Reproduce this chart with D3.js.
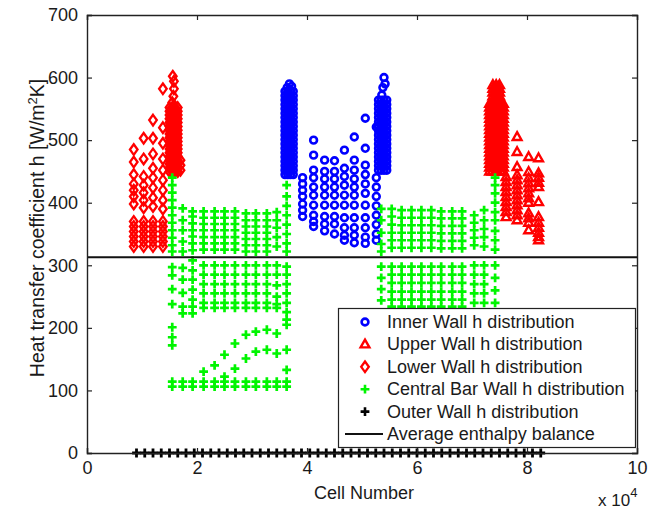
<html>
<head>
<meta charset="utf-8">
<title>Heat transfer coefficient distribution</title>
<script src="https://cdn.jsdelivr.net/npm/d3@7"></script>
<style>
  body { margin: 0; background: #fff; }
  text { font-family: "Liberation Sans", Arial, Helvetica, sans-serif; fill: #1a1a1a; }
</style>
</head>
<body>
<svg></svg>
<script>
'use strict';

// axes
let xTicks = [0, 2, 4, 6, 8, 10];
let yTicks = [0, 100, 200, 300, 400, 500, 600, 700];
let averageH = 313;

// inner wall (blue circles): two dense blocks plus the bowl between them
let innerBlockLeftX = [3.6, 3.65, 3.7, 3.75];
let innerBlockLeftY = [445, 452, 459, 466, 473, 480, 487, 494, 501, 508, 515, 522, 529, 536, 543, 550, 557, 564, 571, 578];
let innerTopLeft = [[3.64, 584], [3.68, 590], [3.72, 586]];
let innerBlockRightX = [5.3, 5.35, 5.4, 5.45];
let innerBlockRightY = [452, 459, 466, 473, 480, 487, 494, 501, 508, 515, 522, 529, 536, 543, 550, 557, 564];
let innerTopRight = [[5.36, 572], [5.38, 584], [5.4, 600], [5.42, 590]];
let innerColX = [3.92, 4.12, 4.32, 4.5, 4.68, 4.86, 5.06, 5.26];
let innerColY = [
  [440, 430, 420, 410, 398, 388, 378],
  [500, 476, 452, 440, 425, 412, 396, 380, 370, 362],
  [468, 450, 438, 425, 412, 396, 378, 366, 355],
  [467, 450, 438, 425, 412, 396, 378, 366, 350],
  [484, 455, 442, 428, 412, 396, 376, 360, 348, 340],
  [505, 468, 452, 438, 425, 412, 396, 376, 360, 348, 336],
  [535, 487, 460, 445, 430, 415, 396, 376, 360, 345, 335],
  [521, 440, 425, 410, 395, 380, 365, 350, 340]
];

// upper wall (red triangles)
let upperBlockX = [7.32, 7.37, 7.42, 7.47, 7.52, 7.57];
let upperBlockY = [450, 456, 462, 468, 474, 480, 486, 492, 498, 504, 510, 516, 522, 528, 534, 540, 546, 552, 558];
let upperTopX = [7.38, 7.44, 7.5];
let upperTopY = [564, 570, 576, 582, 588];
let upperColX = [7.62, 7.82, 8.03, 8.21];
let upperColY = [
  [441, 433, 425, 417, 409, 401, 393, 385, 377],
  [505, 481, 457, 444, 436, 428, 420, 412, 404, 396, 388, 380, 372],
  [473, 449, 439, 431, 423, 415, 407, 400, 383, 375, 368, 356],
  [471, 447, 440, 432, 425, 401, 377, 368, 360, 352, 345, 340]
];

// lower wall (red diamonds)
let lowerColX = [0.85, 1.03, 1.2, 1.38];
let lowerColY = [
  [485, 465, 445, 430, 420, 410, 398, 370, 362, 354, 346, 338, 330],
  [503, 470, 442, 428, 416, 404, 392, 370, 362, 354, 346, 338, 330],
  [532, 503, 478, 455, 440, 424, 408, 394, 370, 362, 354, 346, 338, 330],
  [582, 520, 495, 470, 452, 436, 420, 404, 390, 370, 362, 354, 346, 338, 330]
];
let lowerBlockX = [1.5, 1.55, 1.6, 1.65];
let lowerBlockY = [450, 456, 462, 468, 474, 480, 486, 492, 498, 504, 510, 516, 522, 528, 534, 540, 546, 552];
let lowerTop = [[1.55, 560], [1.57, 570], [1.58, 582], [1.58, 594], [1.56, 602], [1.7, 452], [1.7, 460], [1.7, 468]];

// central bar wall (green plus)
let centralColX = [1.55, 1.74, 1.92, 2.12, 2.32, 2.5, 2.69, 2.89, 3.07, 3.27, 3.45, 3.63,
  5.35, 5.54, 5.72, 5.9, 6.08, 6.26, 6.44, 6.64, 6.82, 7.04, 7.22, 7.42];
let centralColY = [
  [440, 428, 416, 404, 392, 380, 368, 356, 344, 332, 322, 297, 284, 262, 238, 201, 185, 172, 114, 106],
  [391, 372, 356, 338, 322, 296, 277, 256, 234, 223, 114, 106],
  [386, 378, 367, 356, 346, 335, 324, 308, 292, 277, 261, 245, 234, 223, 114, 106],
  [386, 376, 366, 356, 345, 335, 325, 300, 285, 270, 255, 240, 232, 130, 114, 106],
  [386, 376, 366, 356, 345, 335, 325, 300, 285, 270, 255, 240, 232, 140, 114, 106],
  [386, 376, 366, 356, 345, 335, 325, 300, 285, 270, 255, 240, 232, 157, 122, 114, 106],
  [386, 376, 366, 356, 345, 335, 325, 300, 285, 270, 255, 240, 232, 175, 135, 114, 106],
  [383, 372, 362, 352, 342, 332, 322, 300, 285, 270, 255, 240, 232, 189, 151, 114, 106],
  [383, 372, 362, 352, 342, 332, 322, 300, 285, 270, 255, 240, 232, 194, 162, 114, 106],
  [383, 372, 362, 352, 342, 332, 322, 300, 285, 270, 255, 240, 232, 197, 165, 114, 106],
  [385, 372, 360, 345, 330, 300, 285, 268, 250, 238, 232, 191, 159, 114, 106],
  [428, 410, 395, 380, 365, 350, 335, 322, 298, 285, 270, 255, 240, 225, 213, 205, 165, 133, 114, 106],
  [390, 372, 352, 334, 322, 298, 280, 262, 244],
  [390, 378, 365, 352, 340, 328, 298, 285, 272, 258, 245, 234],
  [388, 376, 364, 352, 340, 328, 298, 285, 272, 258, 245, 234],
  [388, 376, 364, 352, 340, 328, 298, 285, 272, 258, 245, 234],
  [388, 376, 364, 352, 340, 328, 298, 285, 272, 258, 245, 234],
  [388, 376, 364, 352, 340, 328, 298, 285, 272, 258, 245, 234],
  [386, 375, 363, 351, 339, 327, 298, 285, 272, 258, 245, 234],
  [386, 375, 363, 351, 339, 327, 298, 285, 272, 258, 245, 234],
  [386, 375, 363, 351, 339, 327, 298, 285, 272, 258, 245, 234],
  [380, 368, 356, 344, 332, 300, 285, 270, 255, 240],
  [388, 372, 358, 345, 330, 300, 285, 270, 255, 240],
  [440, 428, 415, 400, 385, 372, 355, 340, 325, 300, 280, 260, 240]
];

// outer wall (black plus), all at h = 0
let outerX = [0.9, 1.05, 1.2, 1.35, 1.5, 1.65, 1.8, 1.95, 2.1, 2.25, 2.4, 2.55, 2.7, 2.85, 3.0,
  3.15, 3.3, 3.45, 3.6, 3.75, 3.9, 4.05, 4.2, 4.35, 4.5, 4.65, 4.8, 4.95, 5.1, 5.25, 5.4,
  5.55, 5.7, 5.85, 6.0, 6.15, 6.3, 6.45, 6.6, 6.75, 6.9, 7.05, 7.2, 7.35, 7.5, 7.65, 7.8,
  7.95, 8.1, 8.25];

let legendLabels = ['Inner Wall h distribution', 'Upper Wall h distribution', 'Lower Wall h distribution',
  'Central Bar Wall h distribution', 'Outer Wall h distribution', 'Average enthalpy balance'];

// helpers to turn the column lists into points
function grid(xs, ys) {
  let pts = [];
  xs.forEach(function (x) { ys.forEach(function (y) { pts.push([x, y]); }); });
  return pts;
}
function columns(xs, yss) {
  let pts = [];
  xs.forEach(function (x, i) { yss[i].forEach(function (y) { pts.push([x, y]); }); });
  return pts;
}

let innerPts = grid(innerBlockLeftX, innerBlockLeftY).concat(innerTopLeft,
  grid(innerBlockRightX, innerBlockRightY), innerTopRight, columns(innerColX, innerColY));
let upperPts = grid(upperBlockX, upperBlockY).concat(grid(upperTopX, upperTopY), columns(upperColX, upperColY));
let lowerPts = columns(lowerColX, lowerColY).concat(grid(lowerBlockX, lowerBlockY), lowerTop);
let centralPts = columns(centralColX, centralColY);
let outerPts = outerX.map(function (x) { return [x, 0]; });

let W = 665, H = 513;
let m = { left: 87, right: 637, top: 15, bottom: 453 };

let svg = d3.select('svg').attr('width', W).attr('height', H);

let x = d3.scaleLinear().domain([0, 10]).range([m.left, m.right]);
let y = d3.scaleLinear().domain([0, 700]).range([m.bottom, m.top]);

// marker shapes
let plusPath = 'M-4.4,0H4.4M0,-4.4V4.4';
let triPath = 'M0,-4.8L4.4,3L-4.4,3Z';
let diaPath = 'M0,-5.3L3.8,0L0,5.3L-3.8,0Z';
let green = '#00f500';

function drawMarks(pts, kind, color, sw) {
  let g = svg.append('g');
  if (kind === 'circle') {
    g.selectAll('circle').data(pts).enter().append('circle')
      .attr('cx', function (d) { return x(d[0]); })
      .attr('cy', function (d) { return y(d[1]); })
      .attr('r', 3.4)
      .attr('fill', 'none').attr('stroke', color).attr('stroke-width', sw);
  } else {
    let p = kind === 'tri' ? triPath : kind === 'dia' ? diaPath : plusPath;
    g.selectAll('path').data(pts).enter().append('path')
      .attr('transform', function (d) { return 'translate(' + x(d[0]) + ',' + y(d[1]) + ')'; })
      .attr('d', p)
      .attr('fill', 'none').attr('stroke', color)
      .attr('stroke-width', sw);
  }
}

drawMarks(innerPts, 'circle', '#0000ff', 2.6);
drawMarks(upperPts, 'tri', '#ff0000', 2.4);
drawMarks(lowerPts, 'dia', '#ff0000', 2.3);
drawMarks(centralPts, 'plus', green, 2.7);
drawMarks(outerPts, 'plus', '#000', 2.8);

// average enthalpy line
svg.append('line')
  .attr('x1', x(0)).attr('x2', x(10))
  .attr('y1', y(averageH)).attr('y2', y(averageH))
  .attr('stroke', '#111').attr('stroke-width', 2);

// axes with inward ticks, box all round
let axB = d3.axisBottom(x).tickValues(xTicks).tickSize(-5).tickPadding(8);
let axL = d3.axisLeft(y).tickValues(yTicks).tickSize(-5).tickPadding(9);
let axT = d3.axisTop(x).tickValues(xTicks).tickSize(-5).tickFormat('');
let axR = d3.axisRight(y).tickValues(yTicks).tickSize(-5).tickFormat('');

function styleAxis(g) {
  g.select('.domain').attr('stroke', '#222').attr('stroke-width', 1.4);
  g.selectAll('.tick line').attr('stroke', '#222').attr('stroke-width', 1.2);
  g.selectAll('.tick text').attr('font-size', 18)
    .attr('font-family', '"Liberation Sans", Arial, sans-serif').attr('fill', '#1a1a1a');
}

svg.append('g').attr('transform', 'translate(0,' + m.bottom + ')').call(axB).call(styleAxis);
svg.append('g').attr('transform', 'translate(' + m.left + ',0)').call(axL).call(styleAxis);
svg.append('g').attr('transform', 'translate(0,' + m.top + ')').call(axT).call(styleAxis);
svg.append('g').attr('transform', 'translate(' + m.right + ',0)').call(axR).call(styleAxis);

// axis titles
svg.append('text').attr('x', 364).attr('y', 499)
  .attr('text-anchor', 'middle').attr('font-size', 18).text('Cell Number');

let ex = svg.append('text').attr('x', 598).attr('y', 506).attr('font-size', 17);
ex.append('tspan').text('x 10');
ex.append('tspan').attr('dy', -9).attr('font-size', 13).text('4');

let yl = svg.append('text')
  .attr('transform', 'translate(44,' + 228 + ') rotate(-90)')
  .attr('text-anchor', 'middle').attr('font-size', 19.5);
yl.append('tspan').text('Heat transfer coefficient h [W/m');
yl.append('tspan').attr('dy', -7).attr('font-size', 13).text('2');
yl.append('tspan').attr('dy', 7).text('K]');

// legend
let lg = svg.append('g');
lg.append('rect').attr('x', 338.5).attr('y', 308.5).attr('width', 297).attr('height', 139)
  .attr('fill', '#fff').attr('stroke', '#222').attr('stroke-width', 1.2);

let rowY = d3.scaleLinear().domain([0, 5]).range([322, 434]);
let mx = 365;

lg.append('circle').attr('cx', mx).attr('cy', rowY(0)).attr('r', 3.4)
  .attr('fill', 'none').attr('stroke', '#0000ff').attr('stroke-width', 2.6);
lg.append('path').attr('transform', 'translate(' + mx + ',' + rowY(1) + ')').attr('d', triPath)
  .attr('fill', 'none').attr('stroke', '#ff0000').attr('stroke-width', 2.4);
lg.append('path').attr('transform', 'translate(' + mx + ',' + rowY(2) + ')').attr('d', diaPath)
  .attr('fill', 'none').attr('stroke', '#ff0000').attr('stroke-width', 2.3);
lg.append('path').attr('transform', 'translate(' + mx + ',' + rowY(3) + ')').attr('d', plusPath)
  .attr('fill', 'none').attr('stroke', green).attr('stroke-width', 2.6);
lg.append('path').attr('transform', 'translate(' + mx + ',' + rowY(4) + ')').attr('d', plusPath)
  .attr('fill', 'none').attr('stroke', '#000').attr('stroke-width', 2.6);
lg.append('line').attr('x1', 345).attr('x2', 383).attr('y1', rowY(5)).attr('y2', rowY(5))
  .attr('stroke', '#111').attr('stroke-width', 2);

lg.selectAll('text.lab').data(legendLabels).enter().append('text')
  .attr('class', 'lab')
  .attr('x', 387)
  .attr('y', function (d, i) { return rowY(i) + 6; })
  .attr('font-size', 18)
  .text(function (d) { return d; });
</script>
</body>
</html>
